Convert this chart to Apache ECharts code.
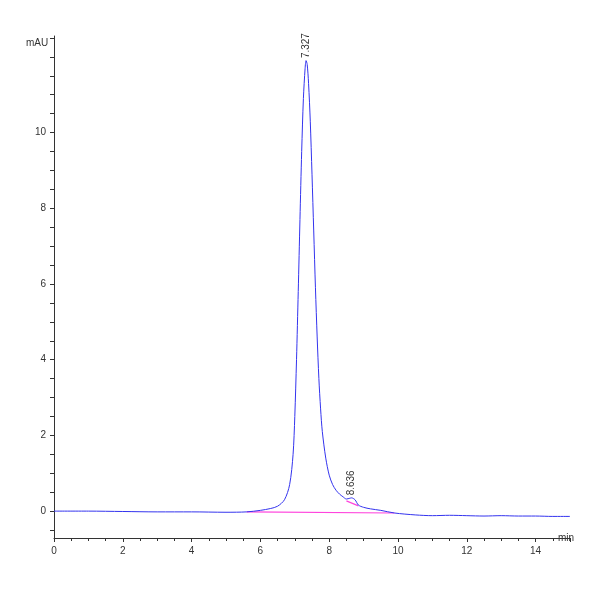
<!DOCTYPE html>
<html><head><meta charset="utf-8">
<script src="https://cdn.jsdelivr.net/npm/echarts@6/dist/echarts.min.js"></script>
<style>html,body{margin:0;background:#fff}#c{width:600px;height:600px}</style></head>
<body><div id="c"></div>
<script>
const timeMin = [0,1,2,3,4,5,5.6,6.0,6.3,6.5,6.7,6.85,6.95,7.0,7.05,7.1,7.15,7.2,7.25,7.3,7.327,7.36,7.4,7.45,7.5,7.55,7.6,7.65,7.7,7.75,7.8,7.9,8.0,8.1,8.2,8.3,8.4,8.5,8.6,8.65,8.75,8.85,9.0,9.2,9.5,9.9,10.5,11,11.5,12,12.5,13,13.5,14,14.5,15];
const signal = [0,0,-0.01,-0.02,-0.02,-0.03,-0.02,0.02,0.07,0.13,0.3,0.7,1.5,2.5,4,5.8,7.7,9.5,10.9,11.7,11.9,11.8,11.3,10.3,8.9,7.4,5.9,4.6,3.5,2.7,2.1,1.4,0.95,0.7,0.55,0.45,0.38,0.32,0.34,0.35,0.3,0.16,0.1,0.06,0.02,-0.05,-0.1,-0.12,-0.11,-0.12,-0.13,-0.12,-0.13,-0.13,-0.14,-0.14];
const baseline1 = [[5.6,-0.02],[9.9,-0.05]];
const baseline2 = [[8.5,0.27],[8.85,0.14]];
const peaks = [{t:7.327,h:11.9,label:'7.327'},{t:8.636,h:0.35,label:'8.636'}];
const yTickValues = [-0.5,0,0.5,1,1.5,2,2.5,3,3.5,4,4.5,5,5.5,6,6.5,7,7.5,8,8.5,9,9.5,10,10.5,11,11.5,12,12.5];
const yLabelValues = [0,2,4,6,8,10];

const chart = echarts.init(document.getElementById('c'));
const txt = {color:'#333',fontFamily:'Liberation Sans',fontSize:10};
chart.setOption({
  animation:false,
  grid:{left:54,right:30,top:36,bottom:62},
  xAxis:{type:'value',min:0,max:15,interval:2,name:'min',nameLocation:'end',nameGap:-12,
    nameTextStyle:Object.assign({},txt,{padding:[28,0,0,0]}),
    axisLine:{onZero:false,lineStyle:{color:'#333'}},axisTick:{length:4,lineStyle:{color:'#333'}},
    minorTick:{show:true,splitNumber:4,length:3,lineStyle:{color:'#333'}},
    axisLabel:Object.assign({},txt,{formatter:v=>v>=15?'':v}),splitLine:{show:false}},
  yAxis:{type:'value',min:-0.71,max:12.55,
    axisLine:{onZero:false,lineStyle:{color:'#333'}},
    axisTick:{length:4,customValues:yTickValues,lineStyle:{color:'#333'}},
    axisLabel:Object.assign({},txt,{customValues:yLabelValues}),
    splitLine:{show:false}},
  graphic:[{type:'text',left:26,top:38,style:{text:'mAU',fill:'#333',font:'10px Liberation Sans'}}],
  series:[
    {type:'line',data:baseline1,symbol:'none',lineStyle:{color:'#ff44dd',width:1.2},z:2},
    {type:'line',data:baseline2,symbol:'none',lineStyle:{color:'#ff44dd',width:1.2},z:2},
    {type:'line',data:timeMin.map((t,i)=>[t,signal[i]]),symbol:'none',smooth:0.3,
     lineStyle:{color:'#3333ee',width:1},z:3,
     markPoint:{symbol:'circle',symbolSize:1,itemStyle:{color:'rgba(0,0,0,0)'},
       data:peaks.map(p=>({coord:[p.t,p.h],value:p.label,
       label:{show:true,formatter:p.label,rotate:90,position:'top',distance:2,align:'left',verticalAlign:'middle',
         color:'#333',fontSize:10,fontFamily:'Liberation Sans'}}))}}
  ]
});
</script></body></html>
